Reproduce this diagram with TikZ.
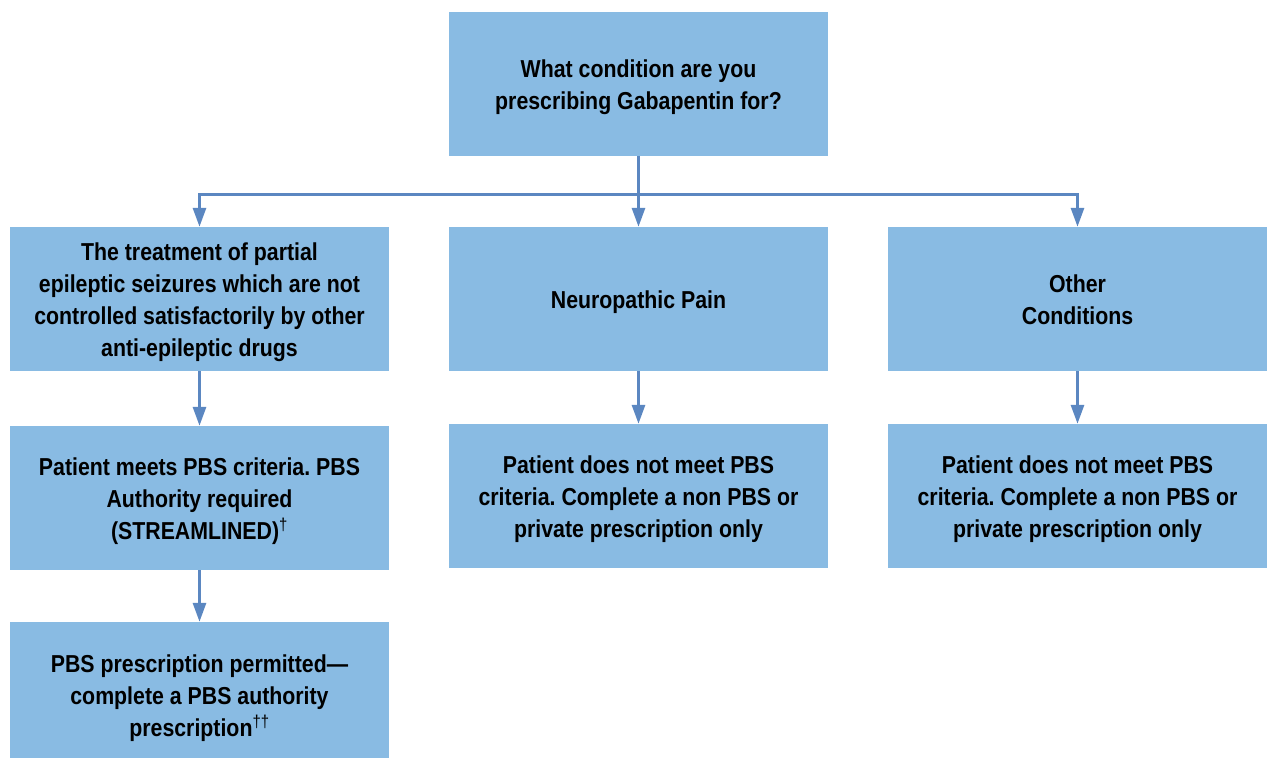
\documentclass[tikz,border=0pt]{standalone}
\usepackage{fontspec}
\setmainfont{Liberation Sans}[FakeStretch=0.87]
\frenchspacing
\usetikzlibrary{arrows.meta}
\definecolor{boxblue}{HTML}{89BBE3}
\definecolor{linkblue}{HTML}{5B87C1}
% centred lines of a box, with a strut on the first line
\newcommand{\boxlines}[2][28.2pt]{\begin{tabular}{@{}c@{}}\rule{0pt}{#1}#2\end{tabular}}
\tikzset{
  flowbox/.style={fill=boxblue,minimum width=379pt,minimum height=144pt,inner sep=0pt,
    font=\fontsize{24.5}{32}\selectfont\bfseries},
  link/.style={draw=linkblue,line width=3pt},
  linkarrow/.style={link,-{Triangle[width=13pt,length=19pt]}}
}
\begin{document}
\begin{tikzpicture}[x=1pt,y=1pt]
    \useasboundingbox (0,0) rectangle (1270,-758);
    \node[flowbox] (q) at (638.5,-84) {\boxlines{What condition are you\\prescribing Gabapentin for?}};
    % conditions
    \node[flowbox] (epi) at (199.5,-299) {\boxlines{The treatment of partial\\epileptic seizures which are not\\controlled satisfactorily by other\\anti-epileptic drugs}};
    \node[flowbox] (neuro) at (638.5,-299) {\boxlines{Neuropathic Pain}};
    \node[flowbox] (other) at (1077.5,-299) {\boxlines{Other\\Conditions}};
    % outcomes
    \node[flowbox] (meets) at (199.5,-498) {\boxlines{Patient meets PBS criteria. PBS\\Authority required\\(STREAMLINED)\textsuperscript{\mdseries†}}};
    \node[flowbox] (neurono) at (638.5,-496) {\boxlines{Patient does not meet PBS\\criteria. Complete a non PBS or\\private prescription only}};
    \node[flowbox] (otherno) at (1077.5,-496) {\boxlines{Patient does not meet PBS\\criteria. Complete a non PBS or\\private prescription only}};
    \node[flowbox,minimum height=136pt] (permit) at (199.5,-690) {\boxlines[38.2pt]{PBS prescription permitted—\\complete a PBS authority\\prescription\textsuperscript{\mdseries††}}};
    % connectors
    \coordinate (split) at (638.5,-194);
    \draw[link] (q.south) -- (split);
    \draw[linkarrow] (split) -| (epi.north);
    \draw[linkarrow] (split) -- (neuro.north);
    \draw[linkarrow] (split) -| (other.north);
    \draw[linkarrow] (epi) -- (meets);
    \draw[linkarrow] (neuro) -- (neurono);
    \draw[linkarrow] (other) -- (otherno);
    \draw[linkarrow] (meets) -- (permit);
\end{tikzpicture}
\end{document}
